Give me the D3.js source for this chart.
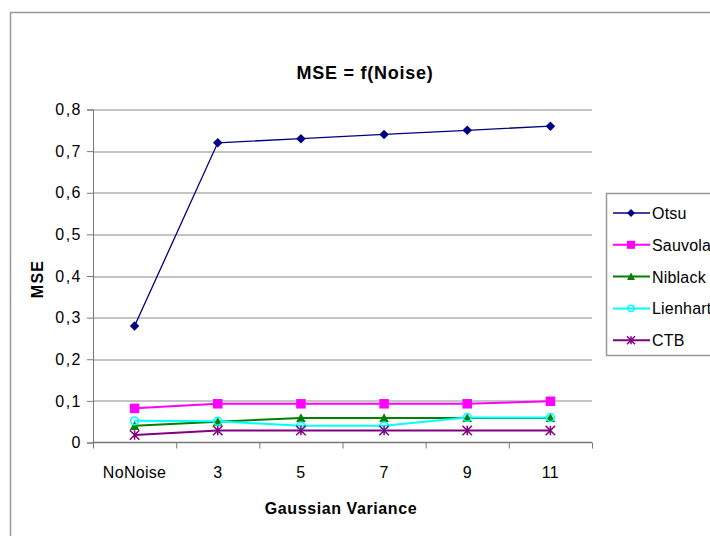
<!DOCTYPE html>
<html>
<head>
<meta charset="utf-8">
<script src="https://cdn.jsdelivr.net/npm/d3@7"></script>
<style>
  body { margin: 0; background: #fff; }
  svg { display: block; font-family: "Liberation Sans", Arial, sans-serif; }
</style>
</head>
<body>
<div id="chart"></div>
<script>
// data
const categories = ["NoNoise", "3", "5", "7", "9", "11"];
const otsu     = [0.28, 0.72, 0.73, 0.74, 0.75, 0.76];
const sauvola  = [0.082, 0.093, 0.093, 0.093, 0.093, 0.099];
const niblack  = [0.04, 0.05, 0.059, 0.059, 0.059, 0.059];
const lienhart = [0.052, 0.051, 0.04, 0.04, 0.06, 0.06];
const ctb      = [0.018, 0.029, 0.029, 0.029, 0.029, 0.029];
const yTicks   = [0, 0.1, 0.2, 0.3, 0.4, 0.5, 0.6, 0.7, 0.8];

const series = [
    { name: "Otsu",     values: otsu,     color: "#000080", marker: "diamond", width: 1.3 },
    { name: "Sauvola",  values: sauvola,  color: "#ff00ff", marker: "square",  width: 2 },
    { name: "Niblack",  values: niblack,  color: "#008000", marker: "triangle", width: 2 },
    { name: "Lienhart", values: lienhart, color: "#00ffff", marker: "circle",  width: 2 },
    { name: "CTB",      values: ctb,      color: "#800080", marker: "star",    width: 2 }
];

const W = 710, H = 536;
const margin = { top: 109.5, right: 118, bottom: 93.5, left: 93 };
const width = W - margin.left - margin.right;
const height = H - margin.top - margin.bottom;

const svg = d3.select("#chart").append("svg")
    .attr("width", W)
    .attr("height", H);

// outer chart frame (runs off the right and bottom)
svg.append("rect")
    .attr("x", 10.5).attr("y", 12.5)
    .attr("width", 760).attr("height", 600)
    .attr("fill", "none").attr("stroke", "#999").attr("stroke-width", 1.5);

svg.append("text")
    .attr("x", 365).attr("y", 79)
    .attr("text-anchor", "middle")
    .style("font-size", "18px").style("font-weight", "bold")
    .style("letter-spacing", "0.75px")
    .text("MSE = f(Noise)");

const g = svg.append("g")
    .attr("transform", "translate(" + margin.left + "," + margin.top + ")");

const x = d3.scaleBand().domain(categories).range([0, width]);
const y = d3.scaleLinear().domain([0, 0.8]).range([height, 0]);

// gridlines
g.append("g")
    .selectAll("line")
    .data(yTicks.slice(1))
    .join("line")
    .attr("x1", 0).attr("x2", width)
    .attr("y1", d => Math.round(y(d)) + 0.5).attr("y2", d => Math.round(y(d)) + 0.5)
    .attr("stroke", "#8a8a8a").attr("stroke-width", 1);

// y axis
const yAxis = g.append("g")
    .call(d3.axisLeft(y).tickValues(yTicks).tickSize(6).tickPadding(5)
        .tickFormat(d => d === 0 ? "0" : d3.format(".1f")(d).replace(".", ",")));
yAxis.select(".domain").attr("stroke", "#777");
yAxis.selectAll(".tick line").attr("stroke", "#777");
yAxis.selectAll("text").style("font-size", "16px").style("letter-spacing", "1.5px")
    .attr("fill", "#000");

// x axis, ticks between categories
const xAxis = g.append("g")
    .attr("transform", "translate(0," + height + ")");
xAxis.append("line")
    .attr("x1", 0).attr("x2", width)
    .attr("stroke", "#777").attr("stroke-width", 1.5);
xAxis.selectAll(".xt")
    .data(categories.concat(["end"]))
    .join("line")
    .attr("class", "xt")
    .attr("x1", (d, i) => i * x.step() + 0.5).attr("x2", (d, i) => i * x.step() + 0.5)
    .attr("y1", 0).attr("y2", 6)
    .attr("stroke", "#777");
xAxis.selectAll(".xl")
    .data(categories)
    .join("text")
    .attr("class", "xl")
    .attr("x", d => x(d) + x.bandwidth() / 2)
    .attr("y", 35)
    .attr("text-anchor", "middle")
    .style("font-size", "16px").style("letter-spacing", "0.3px")
    .text(d => d);

// axis titles
svg.append("text")
    .attr("x", 341).attr("y", 514)
    .attr("text-anchor", "middle")
    .style("font-size", "16px").style("font-weight", "bold")
    .style("letter-spacing", "0.6px")
    .text("Gaussian Variance");

svg.append("text")
    .attr("transform", "translate(43,279) rotate(-90)")
    .attr("text-anchor", "middle")
    .style("font-size", "16px").style("font-weight", "bold")
    .style("letter-spacing", "1.2px")
    .text("MSE");

function drawMarker(sel, type, color, s) {
    const r = s / 2;
    if (type === "diamond") {
        sel.append("path").attr("d", `M0,${-r}L${r},0L0,${r}L${-r},0Z`)
            .attr("fill", color);
    } else if (type === "square") {
        sel.append("rect").attr("x", -r).attr("y", -r)
            .attr("width", s).attr("height", s).attr("fill", color);
    } else if (type === "triangle") {
        sel.append("path").attr("d", `M0,${-r}L${r},${r * 0.85}L${-r},${r * 0.85}Z`)
            .attr("fill", color);
    } else if (type === "circle") {
        sel.append("circle").attr("r", r - 0.8)
            .attr("fill", "none").attr("stroke", color).attr("stroke-width", 1.5);
    } else if (type === "star") {
        sel.append("path")
            .attr("d", `M${-r},${-r}L${r},${r}M${-r},${r}L${r},${-r}M0,${-r}L0,${r}`)
            .attr("stroke", color).attr("stroke-width", 1.5).attr("fill", "none");
    }
}

const line = d3.line()
    .x((d, i) => x(categories[i]) + x.bandwidth() / 2)
    .y(d => y(d));

series.forEach(s => {
    g.append("path")
        .datum(s.values)
        .attr("d", line)
        .attr("fill", "none")
        .attr("stroke", s.color)
        .attr("stroke-width", s.width);
});
series.forEach(s => {
    s.values.forEach((v, i) => {
        const m = g.append("g")
            .attr("transform", "translate(" + (x(categories[i]) + x.bandwidth() / 2) + "," + y(v) + ")");
        drawMarker(m, s.marker, s.color, 9.5);
    });
});

// legend
const legend = svg.append("g");
legend.append("rect")
    .attr("x", 606.5).attr("y", 193.5)
    .attr("width", 120).attr("height", 162)
    .attr("fill", "#fff").attr("stroke", "#999").attr("stroke-width", 1.5);

series.forEach((s, i) => {
    const ly = 213 + i * 31.8;
    const item = legend.append("g");
    item.append("line")
        .attr("x1", 613).attr("x2", 650)
        .attr("y1", ly).attr("y2", ly)
        .attr("stroke", s.color).attr("stroke-width", s.width);
    const m = item.append("g").attr("transform", "translate(631," + ly + ")");
    drawMarker(m, s.marker, s.color, 8);
    item.append("text")
        .attr("x", 652).attr("y", ly + 6)
        .style("font-size", "16px").style("letter-spacing", "0.2px")
        .text(s.name);
});
</script>
</body>
</html>
